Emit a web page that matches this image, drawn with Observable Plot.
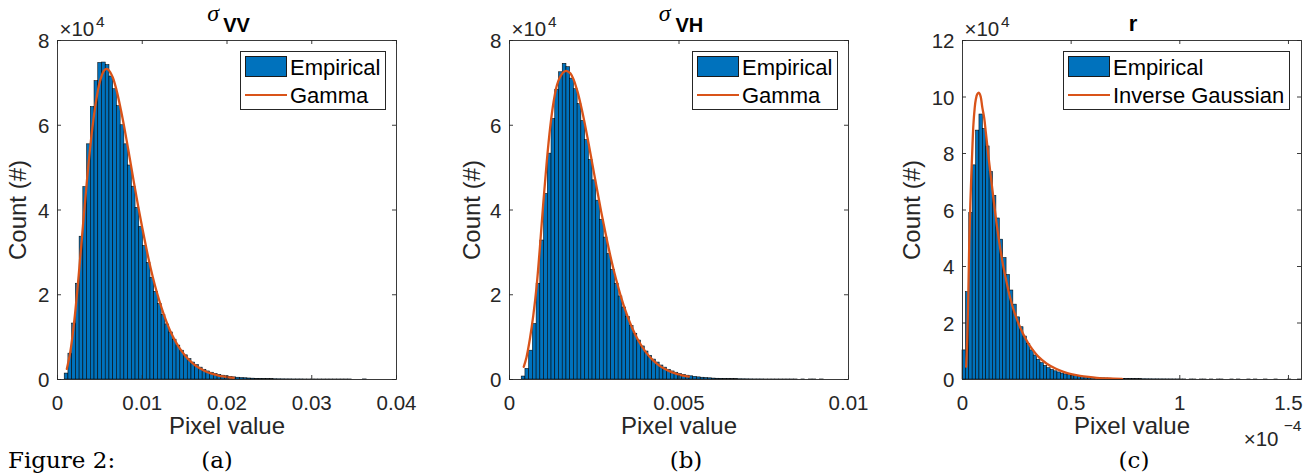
<!DOCTYPE html>
<html><head><meta charset="utf-8">
<script src="https://cdn.jsdelivr.net/npm/d3@7"></script>
<script src="https://cdn.jsdelivr.net/npm/@observablehq/plot@0.6"></script>
<style>
body{margin:0;background:#fff;}
#fig{position:relative;width:1313px;height:474px;overflow:hidden;font-family:"Liberation Sans",Arial,sans-serif;}
.panel{position:absolute;top:0;}
.legend{position:absolute;top:51px;height:59px;border:1px solid #262626;box-sizing:border-box;background:#fff;}
.legend .patch{position:absolute;left:4px;top:4px;width:42px;height:21px;background:#0072BD;border:1px solid #1a1a1a;box-sizing:border-box;}
.legend .ln{position:absolute;left:4px;top:42px;width:42px;height:2.4px;background:#D95319;}
.legend .t{position:absolute;left:49px;font-size:22px;line-height:22px;color:#000;white-space:nowrap;}
.cap{position:absolute;top:448px;font-family:"DejaVu Serif",serif;font-size:23px;line-height:24px;color:#000;white-space:nowrap;}
</style></head><body><div id="fig"></div><script>
// ---- sigma_VV : histogram counts (x1e4), bin edges start + k*width ----
const vvBinStart = 0.00085, vvBinWidth = 0.00044;
const vvCounts = [0.14,0.61,1.32,2.26,3.37,4.54,5.55,6.43,7.04,7.47,
7.48,7.42,7.15,6.85,6.45,6.0,5.55,5.05,4.55,4.05,
3.6,3.15,2.75,2.4,2.07,1.78,1.52,1.3,1.11,0.94,
0.8,0.68,0.57,0.48,0.4,0.34,0.28,0.23,0.19,0.16,
0.13,0.11,0.09,0.075,0.062,0.05,0.042,0.035,0.029,0.024,
0.02,0.016,0.013,0.011,0.009,0.007,0.006,0.005,0.004,0.003,
0.003,0.002,0.002,0.002,0.001,0.001,0.001,0.001,0.001,0.001,
0.001,0.001,0.001,0.001,0.001,0.001,0.001,0,0,0,
0.002];
const vvFitX = [0.0011,0.0015,0.002,0.0025,0.003,0.0035,0.004,0.0045,0.005,0.0055,0.0058,0.006,0.0065,0.007,0.0075,0.008,0.0085,0.009,0.0095,0.01,0.0105,0.011,0.0115,0.012,0.0125,0.013,0.0135,0.014,0.0145,0.015,0.0155,0.016,0.0165,0.017,0.0175,0.018,0.0185,0.019,0.0195,0.02,0.0205,0.0208];
const vvFitY = [0.25,0.64,1.42,2.46,3.62,4.75,5.74,6.51,7.03,7.29,7.33,7.31,7.14,6.8,6.34,5.82,5.25,4.67,4.11,3.58,3.08,2.62,2.22,1.87,1.56,1.29,1.06,0.87,0.71,0.58,0.465,0.374,0.3,0.24,0.19,0.152,0.119,0.094,0.074,0.058,0.046,0.04];

// ---- sigma_VH ----
const vhBinStart = 0.00036, vhBinWidth = 0.00011;
const vhCounts = [0.07,0.25,0.68,1.31,2.26,3.28,4.38,5.33,6.15,6.84,
7.25,7.45,7.37,7.1,6.85,6.5,6.1,5.65,5.18,4.7,
4.22,3.77,3.35,2.96,2.59,2.26,1.96,1.7,1.47,1.26,
1.08,0.92,0.78,0.66,0.56,0.47,0.4,0.33,0.28,0.23,
0.19,0.16,0.13,0.11,0.09,0.075,0.062,0.05,0.042,0.034,
0.028,0.022,0.018,0.015,0.012,0.01,0.008,0.007,0.006,0.005,
0.004,0.003,0.002,0.002,0.002,0.001,0.001,0.001,0.001,0.001,
0.001,0.001,0.001,0.001,0,0.001,0,0.001,0.001,0,
0.001];
const vhFitX = [0.00042,0.0005,0.0006,0.0007,0.0008,0.0009,0.001,0.0011,0.0012,0.0013,0.0014,0.0015,0.0016,0.0017,0.0018,0.0019,0.002,0.0021,0.0022,0.0023,0.0024,0.0025,0.0026,0.0027,0.0028,0.0029,0.003,0.0031,0.0032,0.0033,0.0034,0.0036,0.0038,0.004,0.0042,0.0044,0.0046,0.0048,0.005,0.0052,0.00529];
const vhFitY = [0.3,0.52,0.95,1.5,2.2,3.15,4.2,5.15,5.95,6.55,6.95,7.15,7.26,7.28,7.22,7.06,6.81,6.49,6.12,5.71,5.28,4.84,4.41,3.98,3.58,3.19,2.83,2.5,2.2,1.92,1.67,1.25,0.92,0.67,0.48,0.34,0.24,0.167,0.116,0.08,0.068];

// ---- r (x values in units of 1e-4) ----
const rBinStart = 0, rBinWidth = 0.0156;
const rCounts = [1.03,3.09,5.9,7.58,8.81,9.38,8.87,8.25,7.35,6.5,
5.7,4.95,4.3,3.7,3.15,2.65,2.2,1.85,1.52,1.25,
1.03,0.85,0.7,0.58,0.48,0.4,0.34,0.29,0.25,0.21,
0.18,0.155,0.135,0.12,0.105,0.09,0.08,0.07,0.06,0.052,
0.045,0.04,0.035,0.03,0.026,0.023,0.02,0.018,0.016,0.014,
0.012,0.011,0.01,0.009,0.008,0.007,0.006,0.006,0.005,0.005,
0.004,0.004,0.003,0.003,0.002,0.002,0,0.002,0.001,0,
0.001,0.001,0,0.001,0,0.001,0.001,0,0,0.001,
0,0.001,0,0,0.001,0,0.001,0,0,0.001,
0,0,0.001,0,0,0,0.001,0,0,0.001];
const rFitX = [0.017,0.022,0.027,0.031,0.036,0.041,0.046,0.05,0.056,0.061,0.068,0.076,0.084,0.091,0.1,0.108,0.124,0.141,0.159,0.183,0.2,0.219,0.24,0.265,0.29,0.311,0.35,0.388,0.43,0.465,0.5,0.541,0.58,0.618,0.67,0.734];
const rFitY = [0.45,1.5,3.1,4.8,6.2,7.3,8.3,9.0,9.6,9.9,10.1,10.15,10.0,9.64,9.25,8.7,7.6,6.5,5.4,4.2,3.55,2.9,2.35,1.85,1.45,1.18,0.8,0.56,0.38,0.27,0.19,0.13,0.09,0.06,0.035,0.02];

// ---- ticks ----
const vvXTicks = [0,0.01,0.02,0.03,0.04], vvXLabels = ["0","0.01","0.02","0.03","0.04"];
const vhXTicks = [0,0.005,0.01], vhXLabels = ["0","0.005","0.01"];
const rXTicks = [0,0.5,1,1.5], rXLabels = ["0","0.5","1","1.5"];
const countTicks8 = [0,2,4,6,8];
const countTicks12 = [0,2,4,6,8,10,12];

const SANS = "Liberation Sans, Arial, sans-serif";
const AX = "#262626";
const PW = 339; // plot area size

function panel(o){
  const bins = o.counts.map((c,i)=>({x1:o.start+i*o.width, x2:o.start+(i+1)*o.width, c}));
  const fit = o.fitX.map((x,i)=>({x, y:o.fitY[i]}));
  const [x0,x1]=o.xDomain, [y0,y1]=o.yDomain;
  const xl=(x1-x0)*4/PW, yl=(y1-y0)*4/PW;
  const xLab=new Map(o.xTicks.map((t,i)=>[t,o.xLabels[i]]));
  const W=o.svgWidth, mL=57, mT=40, mB=71, mR=W-mL-PW;
  const marks=[
    Plot.rectY(bins,{x1:"x1",x2:"x2",y:"c",fill:"#0072BD",stroke:"#000",strokeWidth:0.55}),
    Plot.line(fit,{x:"x",y:"y",stroke:"#D95319",strokeWidth:2.3,curve:"catmull-rom"}),
    Plot.frame({stroke:AX,strokeWidth:0.9}),
    Plot.ruleX(o.xTicks,{x:d=>d,y1:y0,y2:y0+yl,stroke:AX,strokeWidth:0.9}),
    Plot.ruleX(o.xTicks,{x:d=>d,y1:y1-yl,y2:y1,stroke:AX,strokeWidth:0.9}),
    Plot.ruleY(o.yTicks,{y:d=>d,x1:x0,x2:x0+xl,stroke:AX,strokeWidth:0.9}),
    Plot.ruleY(o.yTicks,{y:d=>d,x1:x1-xl,x2:x1,stroke:AX,strokeWidth:0.9}),
    Plot.axisX({ticks:o.xTicks,tickFormat:d=>xLab.get(d),tickSize:0,tickPadding:16,fontSize:20.5,label:null}),
    Plot.axisY({ticks:o.yTicks,tickFormat:d=>String(d),tickSize:0,tickPadding:8,fontSize:20.5,label:null,dy:1}),
    Plot.text(["Count (#)"],{text:d=>d,frameAnchor:"left",dx:o.ylabelDx,rotate:-90,textAnchor:"middle",lineAnchor:"middle",fontSize:24,fill:AX}),
    Plot.text(["Pixel value"],{text:d=>d,frameAnchor:"bottom",dy:54,textAnchor:"middle",lineAnchor:"bottom",fontSize:24,fill:AX}),
    Plot.text(["×10"],{text:d=>d,frameAnchor:"top-left",dx:2,dy:-5,textAnchor:"start",lineAnchor:"bottom",fontSize:20.5,fill:AX}),
    Plot.text(["4"],{text:d=>d,frameAnchor:"top-left",dx:38.5,dy:-14,textAnchor:"start",lineAnchor:"bottom",fontSize:15.5,fill:AX})
  ];
  if(o.sigmaSub){
    marks.push(Plot.text(["σ"],{text:d=>d,frameAnchor:"top",dx:o.sigmaDx,dy:-20,textAnchor:"start",lineAnchor:"bottom",fontFamily:"Liberation Serif, serif",fontStyle:"italic",fontSize:24,fill:"#000"}));
    marks.push(Plot.text([o.sigmaSub],{text:d=>d,frameAnchor:"top",dx:o.subDx,dy:-8.3,textAnchor:"start",lineAnchor:"bottom",fontWeight:"bold",fontSize:20,fill:"#000"}));
  } else {
    marks.push(Plot.text([o.title],{text:d=>d,frameAnchor:"top",dx:1,dy:-9.3,textAnchor:"middle",lineAnchor:"bottom",fontWeight:"bold",fontSize:22,fill:"#000"}));
  }
  if(o.xExp){
    marks.push(Plot.text(["×10"],{text:d=>d,frameAnchor:"bottom-right",dx:-23,dy:66,textAnchor:"end",lineAnchor:"bottom",fontSize:20.5,fill:AX}));
    marks.push(Plot.text([o.xExp],{text:d=>d,frameAnchor:"bottom-right",dx:0,dy:51,textAnchor:"end",lineAnchor:"bottom",fontSize:15.5,fill:AX}));
  }
  const svg=Plot.plot({
    width:W,height:450,marginLeft:mL,marginRight:mR,marginTop:mT,marginBottom:mB,
    style:{fontFamily:SANS,color:AX,background:"transparent",overflow:"visible"},
    x:{domain:o.xDomain},y:{domain:o.yDomain},
    marks
  });
  const d=document.createElement("div");
  d.className="panel"; d.style.left=o.left+"px";
  d.appendChild(svg);
  return d;
}

function legend(left,width,fitName){
  const L=document.createElement("div");
  L.className="legend"; L.style.left=left+"px"; L.style.width=width+"px";
  L.innerHTML=`<div class="patch"></div><div class="t" style="top:5px">Empirical</div>`+
    `<div class="ln"></div><div class="t" style="top:33px">${fitName}</div>`;
  return L;
}
function caption(text,cx){
  const c=document.createElement("div");
  c.className="cap"; c.textContent=text;
  if(cx==null){c.style.left="8px";} else {c.style.left=cx+"px"; c.style.transform="translateX(-50%)";}
  return c;
}

const fig=document.getElementById("fig");
fig.appendChild(panel({left:0,svgWidth:437,counts:vvCounts,start:vvBinStart,width:vvBinWidth,fitX:vvFitX,fitY:vvFitY,
  xDomain:[0,0.04],xTicks:vvXTicks,xLabels:vvXLabels,yDomain:[0,8],yTicks:countTicks8,ylabelDx:-39,
  sigmaSub:"VV",sigmaDx:-19.8,subDx:-3.8}));
fig.appendChild(panel({left:452,svgWidth:437,counts:vhCounts,start:vhBinStart,width:vhBinWidth,fitX:vhFitX,fitY:vhFitY,
  xDomain:[0,0.01],xTicks:vhXTicks,xLabels:vhXLabels,yDomain:[0,8],yTicks:countTicks8,ylabelDx:-37,
  sigmaSub:"VH",sigmaDx:-20.2,subDx:-3.5}));
fig.appendChild(panel({left:905,svgWidth:408,counts:rCounts,start:rBinStart,width:rBinWidth,fitX:rFitX,fitY:rFitY,
  xDomain:[0,1.56],xTicks:rXTicks,xLabels:rXLabels,yDomain:[0,12],yTicks:countTicks12,ylabelDx:-50,
  title:"r",xExp:"−4"}));
fig.appendChild(legend(240,146,"Gamma"));
fig.appendChild(legend(692,146,"Gamma"));
fig.appendChild(legend(1063,227,"Inverse Gaussian"));
fig.appendChild(caption("Figure 2:",null));
fig.appendChild(caption("(a)",217));
fig.appendChild(caption("(b)",686));
fig.appendChild(caption("(c)",1134));
</script></body></html>
